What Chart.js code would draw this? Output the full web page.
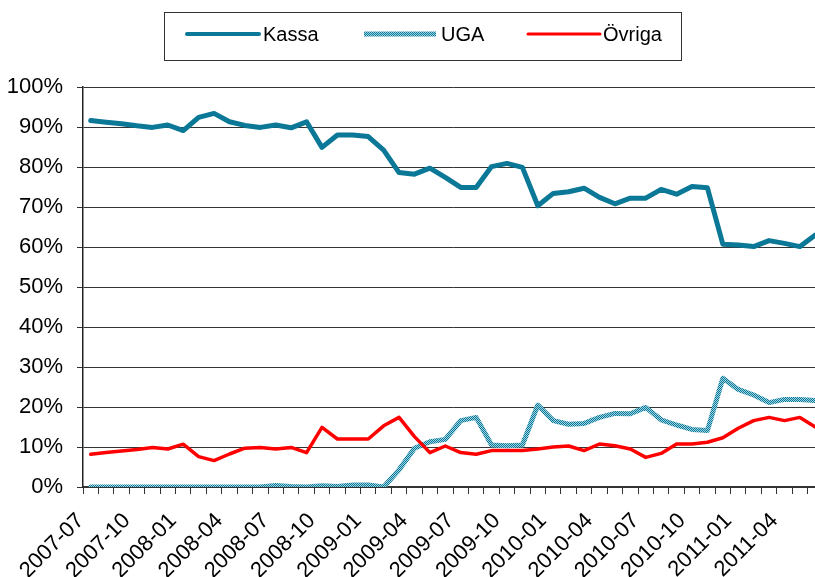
<!DOCTYPE html>
<html>
<head>
<meta charset="utf-8">
<script src="https://cdn.jsdelivr.net/npm/chart.js@4"></script>
<style>
  html, body { margin: 0; padding: 0; background: #fff; overflow: hidden; }
  #chart { position: absolute; left: 0; top: 0; }
</style>
</head>
<body>
<canvas id="chart" width="848" height="577"></canvas>
<script>
// Months shown on the x axis (one label every third month)
const months = [
  '2007-07','2007-08','2007-09','2007-10','2007-11','2007-12',
  '2008-01','2008-02','2008-03','2008-04','2008-05','2008-06',
  '2008-07','2008-08','2008-09','2008-10','2008-11','2008-12',
  '2009-01','2009-02','2009-03','2009-04','2009-05','2009-06',
  '2009-07','2009-08','2009-09','2009-10','2009-11','2009-12',
  '2010-01','2010-02','2010-03','2010-04','2010-05','2010-06',
  '2010-07','2010-08','2010-09','2010-10','2010-11','2010-12',
  '2011-01','2011-02','2011-03','2011-04','2011-05','2011-06'
];

// Shares in percent
const kassa = [91.6, 91.2, 90.8, 90.3, 89.9, 90.5, 89.1, 92.4, 93.4, 91.3,
  90.4, 89.9, 90.5, 89.8, 91.3, 84.9, 88.0, 88.0, 87.6, 84.2,
  78.6, 78.2, 79.7, 77.4, 74.9, 74.9, 80.1, 80.9, 79.9, 70.3,
  73.4, 73.8, 74.7, 72.4, 70.8, 72.2, 72.2, 74.4, 73.2, 75.1,
  74.8, 60.7, 60.5, 60.1, 61.6, 60.9, 60.1, 63.0];
const uga = [0, 0, 0, 0, 0, 0, 0, 0, 0, 0,
  0, 0, 0.4, 0.1, 0, 0.3, 0.1, 0.5, 0.5, 0,
  4.3, 9.7, 11.3, 11.9, 16.6, 17.4, 10.5, 10.3, 10.5, 20.5,
  16.6, 15.7, 15.9, 17.4, 18.4, 18.3, 19.9, 16.8, 15.5, 14.4,
  14.1, 27.2, 24.4, 23.0, 21.1, 21.9, 21.9, 21.6];
const ovriga = [8.2, 8.6, 9.0, 9.4, 9.9, 9.5, 10.7, 7.6, 6.6, 8.25,
  9.7, 9.9, 9.5, 9.9, 8.6, 14.9, 12.0, 12.0, 12.0, 15.3,
  17.4, 12.6, 8.6, 10.25, 8.6, 8.2, 9.1, 9.1, 9.1, 9.5,
  10.0, 10.25, 9.1, 10.75, 10.3, 9.5, 7.4, 8.4, 10.75, 10.75,
  11.2, 12.3, 14.7, 16.6, 17.4, 16.6, 17.4, 15.0];

const FONT = '"Liberation Sans", Arial, sans-serif';
const TEAL = '#0a7896';

// checkered pattern for the UGA line
function makePattern(dark, light) {
  const c = document.createElement('canvas');
  c.width = 2; c.height = 2;
  const g = c.getContext('2d');
  g.fillStyle = light; g.fillRect(0, 0, 2, 2);
  g.fillStyle = dark; g.fillRect(0, 0, 1, 1); g.fillRect(1, 1, 1, 1);
  return g.createPattern(c, 'repeat');
}

const ctx = document.getElementById('chart').getContext('2d');
const ugaPattern = makePattern(TEAL, '#9fd4e2');

// legend drawn by hand inside a framed box
const boxLegend = {
  id: 'boxLegend',
  afterDraw(chart) {
    const g = chart.ctx;
    g.save();
    g.strokeStyle = '#333';
    g.lineWidth = 1;
    g.strokeRect(164.5, 12.5, 517, 48);
    const items = [
      { x: 187, tx: 263 },
      { x: 364, tx: 441 },
      { x: 528, tx: 603 }
    ];
    g.font = '20px ' + FONT;
    g.textBaseline = 'middle';
    g.fillStyle = '#000';
    chart.data.datasets.forEach((ds, i) => {
      const it = items[i];
      g.beginPath();
      g.moveTo(it.x, 34);
      g.lineTo(it.x + 72, 34);
      g.strokeStyle = ds.borderColor;
      g.lineWidth = ds.legendWidth;
      g.lineCap = i === 1 ? 'butt' : 'round';
      g.stroke();
      g.fillText(ds.label, it.tx, 35);
    });
    g.restore();
  }
};

new Chart(ctx, {
  type: 'line',
  data: {
    labels: months,
    datasets: [
      { label: 'Kassa', data: kassa, borderColor: TEAL, borderWidth: 5, legendWidth: 4, order: 3 },
      { label: 'UGA', data: uga, borderColor: ugaPattern, borderWidth: 5, legendWidth: 5, order: 2 },
      { label: 'Övriga', data: ovriga, borderColor: '#ff0000', borderWidth: 3.5, legendWidth: 3, order: 1 }
    ]
  },
  options: {
    responsive: false,
    animation: false,
    layout: { padding: { top: 87, right: 0, left: 0, bottom: 0 } },
    elements: {
      point: { radius: 0 },
      line: { tension: 0, borderJoinStyle: 'round', borderCapStyle: 'round', fill: false }
    },
    plugins: { legend: { display: false }, tooltip: { enabled: false } },
    scales: {
      x: {
        offset: true,
        afterFit(s) { s.height = 90; },
        grid: { offset: true, drawOnChartArea: false, tickLength: 7, color: '#333' },
        border: { color: '#333', width: 1.5 },
        ticks: {
          autoSkip: false,
          maxRotation: 45,
          minRotation: 45,
          padding: 14,
          labelOffset: -10,
          color: '#000',
          font: { family: FONT, size: 22 },
          callback(v, i) { return i % 3 === 0 ? months[i] : ''; }
        }
      },
      y: {
        min: 0,
        max: 100,
        afterFit(s) { s.width = 83; },
        grid: { color: '#333', tickLength: 6 },
        border: { color: '#222', width: 1.5 },
        ticks: {
          stepSize: 10,
          padding: 14,
          color: '#000',
          font: { family: FONT, size: 22 },
          callback: v => v + '%'
        }
      }
    }
  },
  plugins: [boxLegend]
});
</script>
</body>
</html>
